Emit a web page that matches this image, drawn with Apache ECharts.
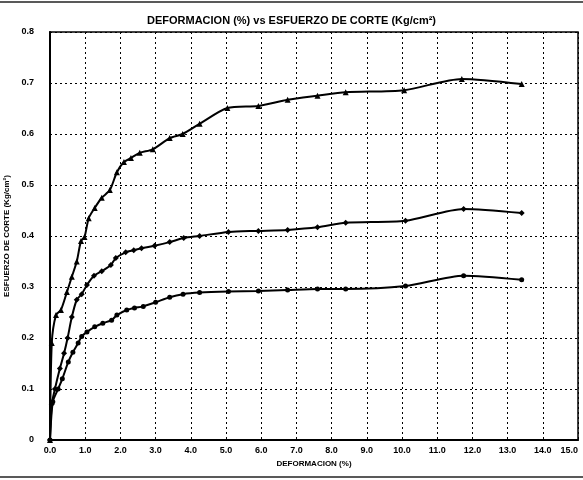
<!DOCTYPE html>
<html>
<head>
<meta charset="utf-8">
<script src="https://cdn.jsdelivr.net/npm/echarts@6/dist/echarts.min.js"></script>
<style>
    html, body { margin: 0; padding: 0; background: #fff; }
    #chart { width: 583px; height: 480px; }
</style>
</head>
<body>
<div id="chart"></div>
<script>
// deformacion (%) / esfuerzo de corte (Kg/cm2) - tres ensayos
var serieAlta = [
    [0, 0], [0.05, 0.19], [0.17, 0.245], [0.31, 0.255], [0.48, 0.29], [0.62, 0.32],
    [0.76, 0.35], [0.88, 0.39], [0.98, 0.398], [1.1, 0.435], [1.27, 0.455],
    [1.47, 0.475], [1.7, 0.49], [1.9, 0.525], [2.1, 0.545], [2.3, 0.553],
    [2.55, 0.563], [2.92, 0.57], [3.4, 0.592], [3.77, 0.6], [4.25, 0.62],
    [5.04, 0.651], [5.92, 0.655], [6.75, 0.667], [7.6, 0.675], [8.4, 0.682],
    [10.06, 0.686], [11.7, 0.708], [13.4, 0.698]
];
var serieMedia = [
    [0, 0], [0.05, 0.07], [0.14, 0.1], [0.28, 0.14], [0.4, 0.17], [0.5, 0.2],
    [0.62, 0.241], [0.76, 0.275], [0.9, 0.286], [1.05, 0.304], [1.25, 0.322],
    [1.47, 0.331], [1.73, 0.343], [1.87, 0.357], [2.15, 0.368], [2.38, 0.372],
    [2.6, 0.376], [2.97, 0.381], [3.4, 0.388], [3.8, 0.396], [4.25, 0.4],
    [5.07, 0.408], [5.92, 0.41], [6.75, 0.412], [7.6, 0.417], [8.4, 0.426],
    [10.1, 0.43], [11.75, 0.453], [13.4, 0.445]
];
var serieBaja = [
    [0, 0], [0.08, 0.075], [0.23, 0.1], [0.35, 0.12], [0.52, 0.153], [0.65, 0.172],
    [0.8, 0.19], [0.9, 0.203], [1.05, 0.212], [1.27, 0.222], [1.5, 0.229],
    [1.75, 0.235], [1.9, 0.245], [2.18, 0.255], [2.4, 0.259], [2.65, 0.262],
    [3.0, 0.27], [3.4, 0.28], [3.78, 0.286], [4.25, 0.289], [5.07, 0.291],
    [5.92, 0.292], [6.75, 0.294], [7.6, 0.296], [8.4, 0.296], [10.1, 0.302],
    [11.75, 0.322], [13.4, 0.314]
];

var fuente = '"Liberation Sans Narrow", "Liberation Sans", Arial, sans-serif';

function serie(nombre, datos, simbolo, tam) {
    return {
        name: nombre,
        type: 'line',
        data: datos,
        smooth: 0.25,
        symbol: simbolo,
        symbolSize: tam,
        lineStyle: { color: '#000', width: 2 },
        itemStyle: { color: '#000' },
        animation: false
    };
}

var grafico = echarts.init(document.getElementById('chart'));

var option = {
    backgroundColor: '#fff',
    title: {
        text: 'DEFORMACION (%) vs ESFUERZO DE CORTE (Kg/cm²)',
        left: 'center',
        top: 10,
        textStyle: { fontFamily: fuente, fontSize: 11, fontWeight: 'bold', color: '#000' }
    },
    grid: { left: 50, right: 5, top: 32, bottom: 40, outerBoundsMode: 'none', containLabel: false },
    xAxis: {
        type: 'value',
        min: 0,
        max: 15,
        interval: 1,
        name: 'DEFORMACION (%)',
        nameLocation: 'middle',
        nameGap: 20,
        nameTextStyle: { fontFamily: fuente, fontSize: 8, fontWeight: 'bold', color: '#000' },
        axisLine: { lineStyle: { color: '#000', width: 2 } },
        axisTick: { show: false },
        axisLabel: {
            fontFamily: fuente, fontSize: 9, fontWeight: 'bold', color: '#000', margin: 6,
            alignMaxLabel: 'right',
            formatter: function (v) { return v.toFixed(1); }
        },
        splitLine: { lineStyle: { color: '#000', type: [2, 3], width: 1 } }
    },
    yAxis: {
        type: 'value',
        min: 0,
        max: 0.8,
        interval: 0.1,
        name: 'ESFUERZO DE CORTE (Kg/cm²)',
        nameLocation: 'middle',
        nameRotate: 90,
        nameGap: 26,
        nameTextStyle: { fontFamily: fuente, fontSize: 8, fontWeight: 'bold', color: '#000' },
        axisLine: { show: true, lineStyle: { color: '#000', width: 2 } },
        axisTick: { show: false },
        axisLabel: {
            fontFamily: fuente, fontSize: 9, fontWeight: 'bold', color: '#000', margin: 16,
            formatter: function (v) { return v === 0 ? '0' : v.toFixed(1); }
        },
        splitLine: { lineStyle: { color: '#000', type: [2, 3], width: 1 } }
    },
    graphic: [
        // marco del area de trazado
        { type: 'rect', shape: { x: 50, y: 32, width: 528, height: 408 },
          style: { fill: 'none', stroke: '#000', lineWidth: 1.5 }, silent: true },
        { type: 'line', shape: { x1: 0, y1: 2, x2: 583, y2: 2 },
          style: { stroke: '#222', lineWidth: 1.5 }, silent: true },
        { type: 'line', shape: { x1: 0, y1: 477, x2: 583, y2: 477 },
          style: { stroke: '#222', lineWidth: 1.5 }, silent: true }
    ],
    series: [
        serie('alta', serieAlta, 'triangle', 6),
        serie('media', serieMedia, 'diamond', 6),
        serie('baja', serieBaja, 'circle', 5)
    ]
};

grafico.setOption(option);
</script>
</body>
</html>
